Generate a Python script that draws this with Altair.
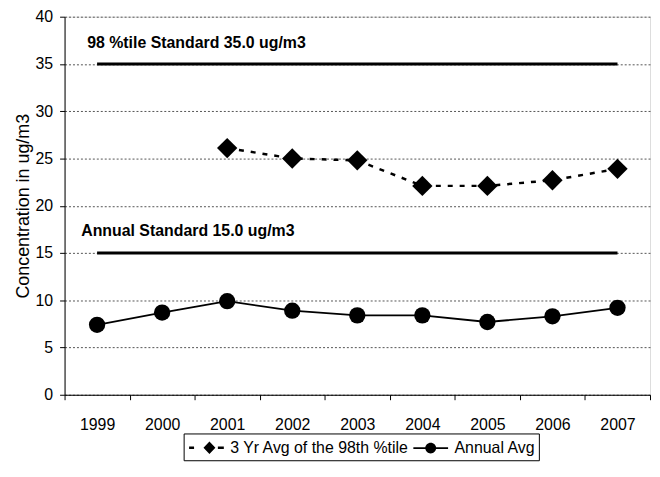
import altair as alt
import pandas as pd

# ---- data ----
years = ["1999", "2000", "2001", "2002", "2003", "2004", "2005", "2006", "2007"]
annual_avg = [7.4, 8.7, 9.9, 8.9, 8.4, 8.4, 7.7, 8.3, 9.2]
three_yr_years = ["2001", "2002", "2003", "2004", "2005", "2006", "2007"]
three_yr_avg = [26.1, 25.0, 24.8, 22.1, 22.1, 22.7, 23.9]
standard_labels = ["98 %tile Standard 35.0 ug/m3", "Annual Standard 15.0 ug/m3"]
standard_values = [35.0, 15.0]
series_names = ["3 Yr Avg of the 98th %tile", "Annual Avg"]
y_ticks = [0, 5, 10, 15, 20, 25, 30, 35, 40]

FONT = "Liberation Sans"

annual_df = pd.DataFrame({"year": years, "value": annual_avg})
three_df = pd.DataFrame({"year": three_yr_years, "value": three_yr_avg})
std_df = pd.DataFrame({"label": standard_labels, "value": standard_values,
                       "start": [years[0]] * 2, "end": [years[-1]] * 2})
legend_df = pd.DataFrame({"series": series_names})

x_scale = alt.Scale(type="band", domain=years, paddingInner=0, paddingOuter=0)
y_scale = alt.Scale(domain=[0, 40], nice=False)

x_axis = alt.Axis(title=None, tickBand="extent", labelAngle=0, labelFont=FONT,
                  labelFontSize=16, labelColor="black", labelPadding=17,
                  tickSize=5, tickColor="black", domainColor="black", grid=False)
y_axis = alt.Axis(title="Concentration in ug/m3", values=y_ticks, labelFont=FONT,
                  labelFontSize=16, labelColor="black", labelPadding=7,
                  tickSize=5, tickColor="black", domainColor="black",
                  grid=True, gridDash=[2, 2], gridColor="#555555", gridWidth=1,
                  titleFont=FONT, titleFontSize=18, titleFontWeight="normal",
                  titleColor="black", titlePadding=3)

X = alt.X("year:O", scale=x_scale, axis=x_axis)
Y = alt.Y("value:Q", scale=y_scale, axis=y_axis)

std_rules = alt.Chart(std_df).mark_rule(color="black", strokeWidth=3).encode(
    x=alt.X("start:O", scale=x_scale, axis=x_axis),
    x2="end:O",
    y=alt.Y("value:Q", scale=y_scale, axis=y_axis),
)

label_98 = alt.Chart(std_df.iloc[[0]]).mark_text(
    align="left", baseline="alphabetic", dx=-10, dy=-16, font=FONT,
    fontSize=16, fontWeight="bold", color="black").encode(
    x=alt.X("start:O", scale=x_scale, axis=x_axis),
    y=alt.Y("value:Q", scale=y_scale, axis=y_axis), text="label:N")

label_ann = alt.Chart(std_df.iloc[[1]]).mark_text(
    align="left", baseline="alphabetic", dx=-16, dy=-17, font=FONT,
    fontSize=16, fontWeight="bold", color="black").encode(
    x=alt.X("start:O", scale=x_scale, axis=x_axis),
    y=alt.Y("value:Q", scale=y_scale, axis=y_axis), text="label:N")

three_line = alt.Chart(three_df).mark_line(
    color="black", strokeWidth=2.5, strokeDash=[5, 7]).encode(x=X, y=Y)
three_pts = alt.Chart(three_df).mark_point(
    shape="diamond", filled=True, color="black", size=420, opacity=1).encode(x=X, y=Y)

ann_line = alt.Chart(annual_df).mark_line(color="black", strokeWidth=1.8).encode(x=X, y=Y)
ann_pts = alt.Chart(annual_df).mark_point(
    shape="circle", filled=True, color="black", size=270, opacity=1).encode(x=X, y=Y)

# legend glyphs (line pieces drawn as thin filled bars so they take the fill colour)
sym_dash_diamond = ("M-1.75,-0.12L-1.25,-0.12L-1.25,0.12L-1.75,0.12Z"
                    "M1.15,-0.12L1.75,-0.12L1.75,0.12L1.15,0.12Z"
                    "M0.3,-0.62L0.9,0L0.3,0.62L-0.3,0Z")
sym_line_circle = ("M-1.75,-0.09L-0.42,-0.09L-0.42,0.09L-1.75,0.09Z"
                   "M0.42,-0.09L1.75,-0.09L1.75,0.09L0.42,0.09Z"
                   "M0.55,0A0.55,0.55,0,1,1,-0.55,0A0.55,0.55,0,1,1,0.55,0Z")

legend_layer = alt.Chart(legend_df).transform_filter("false").mark_point(
    filled=True, color="black", opacity=1).encode(
    shape=alt.Shape("series:N",
                    scale=alt.Scale(domain=series_names,
                                    range=[sym_dash_diamond, sym_line_circle]),
                    legend=alt.Legend(title=None, orient="none", legendX=120, legendY=420,
                                      direction="horizontal", labelFont=FONT,
                                      labelFontSize=16, labelColor="black",
                                      labelLimit=500,
                                      strokeColor="black", padding=3,
                                      symbolSize=400,
                                      symbolFillColor="black",
                                      symbolOffset=9, labelOffset=13, columnPadding=0)))

chart = alt.layer(
    std_rules, label_98, label_ann, three_line, three_pts, ann_line, ann_pts, legend_layer
).properties(
    width=590, height=381,
    autosize=alt.AutoSizeParams(type="none"),
    padding={"left": 57, "top": 7, "right": 2, "bottom": 66},
).configure_view(stroke="#999999", strokeWidth=1).configure(background="white")

chart.save("out.html", embed_options={"renderer": "svg", "actions": False})
